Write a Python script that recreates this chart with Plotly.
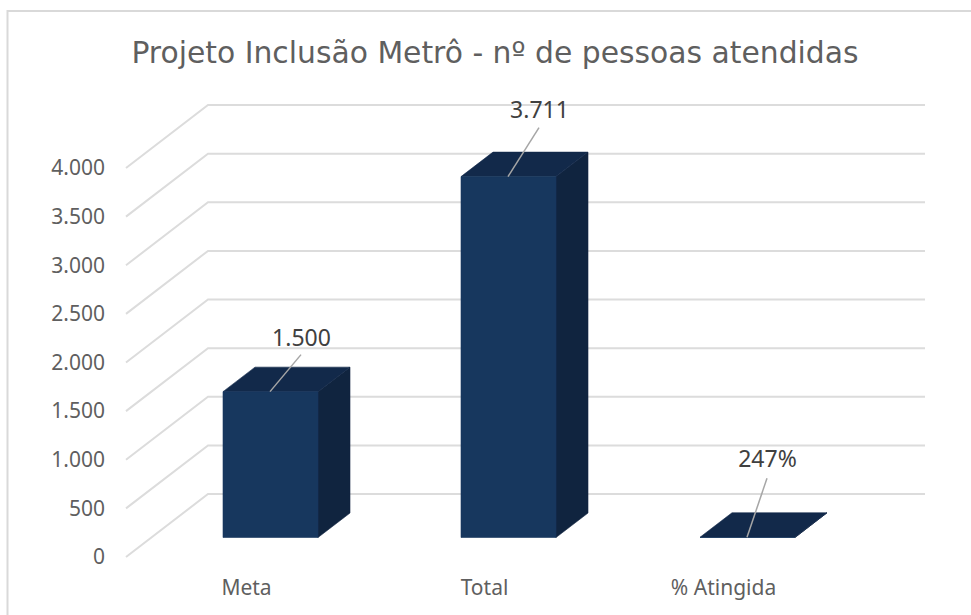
import plotly.graph_objects as go

categories = ["Meta", "Total", "% Atingida"]
values = [1500, 3711, 2.47]
value_labels = ["1.500", "3.711", "247%"]
y_ticks = [0, 500, 1000, 1500, 2000, 2500, 3000, 3500, 4000]
y_tick_labels = ["0", "500", "1.000", "1.500", "2.000", "2.500", "3.000", "3.500", "4.000"]

W, H = 971, 615
ML, MB = 106, 42
PX_PER_UNIT = 0.09725
ZERO_PX = 557.0
PLOT_H = H - MB


def units(px):
    return px / PX_PER_UNIT


# Horizontal axis is scaled 1:1 with the canvas.  Oblique projection settings:
bar_left = [223, 461, 700]
BAR_W = 95
BAR_LIFT = units(19.5)
BAR_DX, BAR_DY = 32, units(24.5)
WALL_DX, WALL_DY = 82, units(63)
FRONT_X, RIGHT_X = 126, 925
label_lift = [51, 64, 76]
leader_end = [(31, 37), (31, 49), (20, 59)]
leader_x0 = [47, 47, 47]

FRONT, TOP, SIDE = "#17375e", "#12294a", "#10243f"
GRID = "#dcdcdc"

fig = go.Figure()

gx, gy = [], []
for t in y_ticks:
    gx += [FRONT_X, FRONT_X + WALL_DX, RIGHT_X, None]
    gy += [t, t + WALL_DY, t + WALL_DY, None]
fig.add_trace(go.Scatter(x=gx, y=gy, mode="lines", line=dict(color=GRID, width=2),
                         hoverinfo="skip", showlegend=False))


def face(xs, ys, color):
    fig.add_trace(go.Scatter(x=xs + xs[:1], y=ys + ys[:1], mode="lines", fill="toself",
                             fillcolor=color, line=dict(color=color, width=0.6),
                             hoverinfo="skip", showlegend=False))


for left, v in zip(bar_left, values):
    r = left + BAR_W
    b = BAR_LIFT
    t = v + BAR_LIFT
    face([r, r + BAR_DX, r + BAR_DX, r], [b, b + BAR_DY, t + BAR_DY, t], SIDE)
    face([left, r, r + BAR_DX, left + BAR_DX], [t, t, t + BAR_DY, t + BAR_DY], TOP)
    face([left, r, r, left], [b, b, t, t], FRONT)

lx, ly = [], []
tx, ty = [], []
for left, v, x0, (dx, dy), lift in zip(bar_left, values, leader_x0, leader_end, label_lift):
    top = v + BAR_LIFT
    lx += [left + x0, left + x0 + dx, None]
    ly += [top, top + units(dy), None]
    tx.append(left + x0 + dx + 0.5)
    ty.append(top + units(lift))
fig.add_trace(go.Scatter(x=lx, y=ly, mode="lines", line=dict(color="#a6a6a6", width=1.5),
                         hoverinfo="skip", showlegend=False))
fig.add_trace(go.Scatter(x=tx, y=ty, mode="text", text=value_labels,
                         textfont=dict(family="Noto Sans", size=23, color="#404040"),
                         textposition="middle center", hoverinfo="skip", showlegend=False))


def paper_x(px):
    return (px - ML) / (W - ML)


def paper_y(px):
    return 1 - px / PLOT_H


fig.add_shape(type="path", xref="paper", yref="paper",
              path=f"M {paper_x(7.5)} {paper_y(H)} L {paper_x(7.5)} {paper_y(11)} L {paper_x(W)} {paper_y(11)}",
              line=dict(color="#d9d9d9", width=2))

fig.update_layout(
    width=W, height=H, autosize=False,
    margin=dict(l=ML, r=0, t=0, b=MB, pad=0),
    paper_bgcolor="white", plot_bgcolor="white",
    title=dict(text="Projeto Inclusão Metrô - nº de pessoas atendidas",
               x=495 / W, xanchor="center", y=1 - 53 / H, yanchor="middle",
               font=dict(family="DejaVu Sans", size=29.8, color="#5f5f5f")),
    xaxis=dict(range=[ML, W], showgrid=False, zeroline=False, showline=False, ticks="",
               tickvals=[l + BAR_W / 2 - 24 for l in bar_left], ticktext=categories,
               tickfont=dict(family="Noto Sans", size=21, color="#5f5f5f")),
    yaxis=dict(range=[units(ZERO_PX - PLOT_H), units(ZERO_PX)], showgrid=False, zeroline=False,
               showline=False, ticks="", tickvals=y_ticks, ticktext=y_tick_labels,
               tickfont=dict(family="Noto Sans", size=21, color="#5f5f5f")),
)
fig.write_html("out.html", config={"displayModeBar": False},
               post_script="document.body.style.margin='0';document.documentElement.style.overflow='hidden';")
